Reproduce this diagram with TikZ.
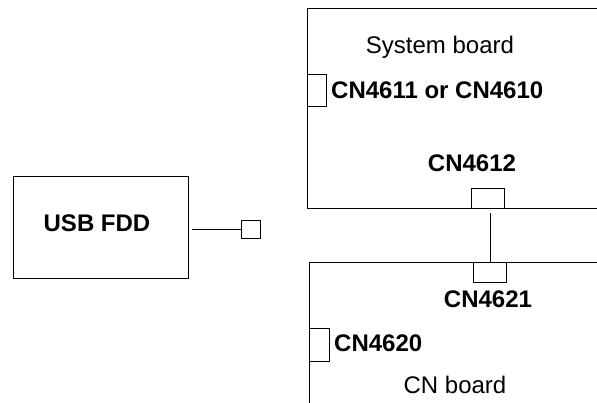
\documentclass[tikz,border=0pt]{standalone}
\usepackage{fontspec}
\setmainfont{Liberation Sans}
\begin{document}
\begin{tikzpicture}[x=1pt,y=-1pt,
  board/.style={draw, line width=1.2pt, inner sep=0pt},
  conn/.style={draw, line width=1.2pt, inner sep=0pt, fill=white},
  bold/.style={font=\fontsize{24}{27}\selectfont\bfseries, inner sep=0pt},
  plain/.style={font=\fontsize{24}{27}\selectfont, inner sep=0pt},
  wire/.style={line width=1.2pt}]
\useasboundingbox (0,0) rectangle (597,403);
\clip (0,0) rectangle (597,403);
% boards (extend beyond the visible area)
\node[board, minimum width=320pt, minimum height=200pt, anchor=north west] (sys) at (307,8) {};
\node[board, minimum width=320pt, minimum height=200pt, anchor=north west] (cnb) at (309,262) {};
\node[board, minimum width=175pt, minimum height=102pt, anchor=north west] (usb) at (13,176) {};
\node[bold] (usbt) at (97,223) {USB FDD};
% connectors
\node[conn, minimum width=19pt, minimum height=32pt, anchor=north west] (c4611) at (307,74) {};
\node[conn, minimum width=33pt, minimum height=20pt, anchor=north west] (c4612) at (471,188) {};
\node[conn, minimum width=33pt, minimum height=20pt, anchor=north west] (c4621) at (473,262) {};
\node[conn, minimum width=20pt, minimum height=33pt, anchor=north west] (c4620) at (309,328) {};
\node[conn, minimum width=19pt, minimum height=18pt, anchor=north west] (usbc) at (241,220) {};
% labels
\node[plain] (sbt) at (440,47) {System board};
\node[bold, anchor=west] (l4611) at (331,90) {CN4611 or CN4610};
\node[bold] (l4612) at (472,163) {CN4612};
\node[bold] (l4621) at (488,299) {CN4621};
\node[bold, anchor=west] (l4620) at (334,343) {CN4620};
\node[plain] (cbt) at (455,385) {CN board};
% wires
\draw[wire] ([yshift=-4pt]c4612.south -| c4621.north) -- (c4621.north);
\draw[wire] ([xshift=3pt]usb.east |- usbc.west) -- (usbc.west);
\end{tikzpicture}
\end{document}
